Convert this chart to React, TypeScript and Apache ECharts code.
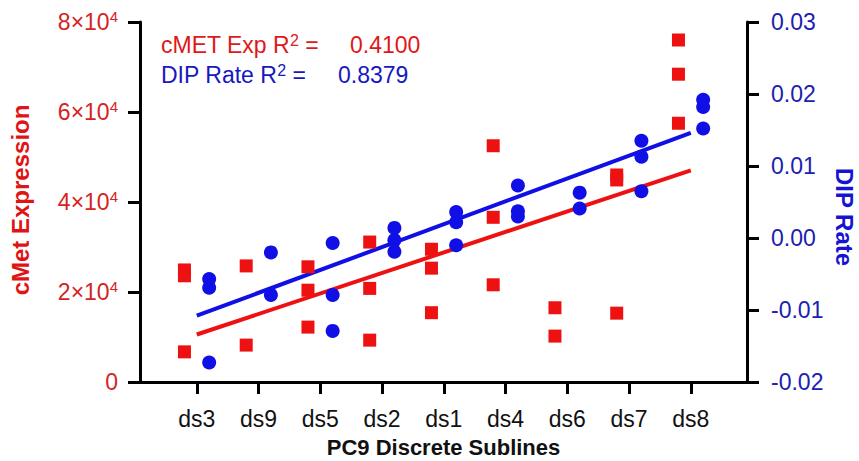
import React, { useEffect, useRef } from "react";
import * as echarts from "echarts";

const categories = ["ds3", "ds9", "ds5", "ds2", "ds1", "ds4", "ds6", "ds7", "ds8"];
const cmetValues: number[][] = [
  [24900, 23600, 6700],
  [25800, 8200],
  [25600, 20400, 12200],
  [31100, 20800, 9300],
  [29500, 25300, 15400],
  [52500, 36600, 21600],
  [16500, 10200],
  [46000, 44900, 15300],
  [76000, 68400, 57500],
];
const dipValues: number[][] = [
  [-0.0057, -0.0069, -0.0173],
  [-0.002, -0.0079],
  [-0.0007, -0.0079, -0.0129],
  [0.0014, -0.0003, -0.0019],
  [0.0036, 0.0022, -0.001],
  [0.0073, 0.0037, 0.003],
  [0.0063, 0.0041],
  [0.0135, 0.0113, 0.0065],
  [0.0192, 0.0182, 0.0152],
];
const leftTicks = [0, 20000, 40000, 60000, 80000];
const rightTicks = [-0.02, -0.01, 0, 0.01, 0.02, 0.03];
const cmetR2 = "0.4100";
const dipR2 = "0.8379";

const RED = "#ee1111";
const BLUE = "#1010e6";
const FONT = "'Liberation Sans', Arial, sans-serif";

function regression(groups: number[][]) {
  const pts: [number, number][] = [];
  groups.forEach((g, i) => g.forEach((v) => pts.push([i, v])));
  const n = pts.length;
  const mx = pts.reduce((s, p) => s + p[0], 0) / n;
  const my = pts.reduce((s, p) => s + p[1], 0) / n;
  let sxy = 0;
  let sxx = 0;
  pts.forEach(([x, y]) => {
    sxy += (x - mx) * (y - my);
    sxx += (x - mx) * (x - mx);
  });
  const b = sxy / sxx;
  const a = my - b * mx;
  const last = groups.length - 1;
  return [
    [0, a],
    [last, a + b * last],
  ];
}

function flatten(groups: number[][], offset: number) {
  const out: [number, number][] = [];
  groups.forEach((g, i) => g.forEach((v) => out.push([i + offset, v])));
  return out;
}

export default function App() {
  const ref = useRef<HTMLDivElement>(null);
  useEffect(() => {
    if (!ref.current) return;
    const chart = echarts.init(ref.current, null, { renderer: "svg" });
    const catIdx = categories.map((_, i) => i);
    const labelRich = {
      a: { fontSize: 23, fontFamily: FONT, color: "#d42424", lineHeight: 26 },
      s: { fontSize: 15, fontFamily: FONT, color: "#d42424", verticalAlign: "top", lineHeight: 15 },
    };
    const annRich = (color: string) => ({
      a: { fontSize: 23, fontFamily: FONT, fill: color, lineHeight: 26 },
      s: { fontSize: 16, fontFamily: FONT, fill: color, verticalAlign: "top", lineHeight: 16 },
    });
    const axisLine = { show: true, onZero: false, lineStyle: { color: "#000", width: 3 } };
    chart.setOption({
      animation: false,
      backgroundColor: "#ffffff",
      grid: { left: 140, right: 112, top: 22, bottom: 79, containLabel: false },
      xAxis: {
        type: "value",
        min: -0.92,
        max: 8.91,
        axisLine,
        axisTick: { show: true, customValues: catIdx, length: 12, lineStyle: { color: "#000", width: 3 } },
        axisLabel: {
          show: true,
          customValues: catIdx,
          formatter: (v: number) => categories[Math.round(v)] ?? "",
          fontSize: 23,
          fontFamily: FONT,
          color: "#111",
          margin: 25,
        },
        splitLine: { show: false },
      },
      yAxis: [
        {
          type: "value",
          position: "left",
          min: leftTicks[0],
          max: leftTicks[leftTicks.length - 1],
          interval: leftTicks[1] - leftTicks[0],
          axisLine,
          axisTick: { show: true, length: 12, lineStyle: { color: "#000", width: 3 } },
          axisLabel: {
            margin: 22,
            formatter: (v: number) => (v === 0 ? "{a|0}" : `{a|${v / 10000}×10}{s|4}`),
            rich: labelRich,
          },
          splitLine: { show: false },
        },
        {
          type: "value",
          position: "right",
          min: rightTicks[0],
          max: rightTicks[rightTicks.length - 1],
          interval: 0.01,
          axisLine,
          axisTick: { show: true, length: 12, lineStyle: { color: "#000", width: 3 } },
          axisLabel: {
            margin: 24,
            formatter: (v: number) => (Math.abs(v) < 1e-9 ? "0.00" : v.toFixed(2)),
            fontSize: 23,
            fontFamily: FONT,
            color: "#2020b0",
          },
          splitLine: { show: false },
        },
      ],
      series: [
        {
          type: "line",
          yAxisIndex: 0,
          data: regression(cmetValues),
          symbol: "none",
          lineStyle: { color: RED, width: 4 },
          z: 2,
        },
        {
          type: "line",
          yAxisIndex: 1,
          data: regression(dipValues),
          symbol: "none",
          lineStyle: { color: BLUE, width: 4 },
          z: 2,
        },
        {
          type: "scatter",
          yAxisIndex: 0,
          data: flatten(cmetValues, -0.2),
          symbol: "rect",
          symbolSize: 13,
          itemStyle: { color: RED, opacity: 1 },
          z: 3,
        },
        {
          type: "scatter",
          yAxisIndex: 1,
          data: flatten(dipValues, 0.2),
          symbol: "circle",
          symbolSize: 14,
          itemStyle: { color: BLUE, opacity: 1 },
          z: 3,
        },
      ],
      graphic: [
        {
          type: "text",
          x: 161,
          y: 45,
          style: {
            text: "{a|cMET Exp R}{s|2}{a| =}",
            rich: annRich("#e01818"),
            verticalAlign: "middle",
          },
        },
        {
          type: "text",
          x: 350,
          y: 45,
          style: { text: cmetR2, fontSize: 23, fontFamily: FONT, fill: "#e01818", verticalAlign: "middle" },
        },
        {
          type: "text",
          x: 161,
          y: 75,
          style: {
            text: "{a|DIP Rate R}{s|2}{a| =}",
            rich: annRich("#1818c0"),
            verticalAlign: "middle",
          },
        },
        {
          type: "text",
          x: 338,
          y: 75,
          style: { text: dipR2, fontSize: 23, fontFamily: FONT, fill: "#1818c0", verticalAlign: "middle" },
        },
        {
          type: "text",
          x: 20,
          y: 200,
          rotation: Math.PI / 2,
          style: {
            text: "cMet Expression",
            fontSize: 24,
            fontWeight: "bold",
            fontFamily: FONT,
            fill: "#e01414",
            align: "center",
            verticalAlign: "middle",
          },
        },
        {
          type: "text",
          x: 844,
          y: 217,
          rotation: -Math.PI / 2,
          style: {
            text: "DIP Rate",
            fontSize: 24,
            fontWeight: "bold",
            fontFamily: FONT,
            fill: "#1414d2",
            align: "center",
            verticalAlign: "middle",
          },
        },
        {
          type: "text",
          x: 443.5,
          y: 447,
          style: {
            text: "PC9 Discrete Sublines",
            fontSize: 22,
            fontWeight: "bold",
            fontFamily: FONT,
            fill: "#111",
            align: "center",
            verticalAlign: "middle",
          },
        },
      ],
    });
    return () => chart.dispose();
  }, []);
  return (
    <div
      ref={ref}
      style={{ position: "fixed", left: 0, top: 0, width: 859, height: 461, background: "#fff" }}
    />
  );
}
